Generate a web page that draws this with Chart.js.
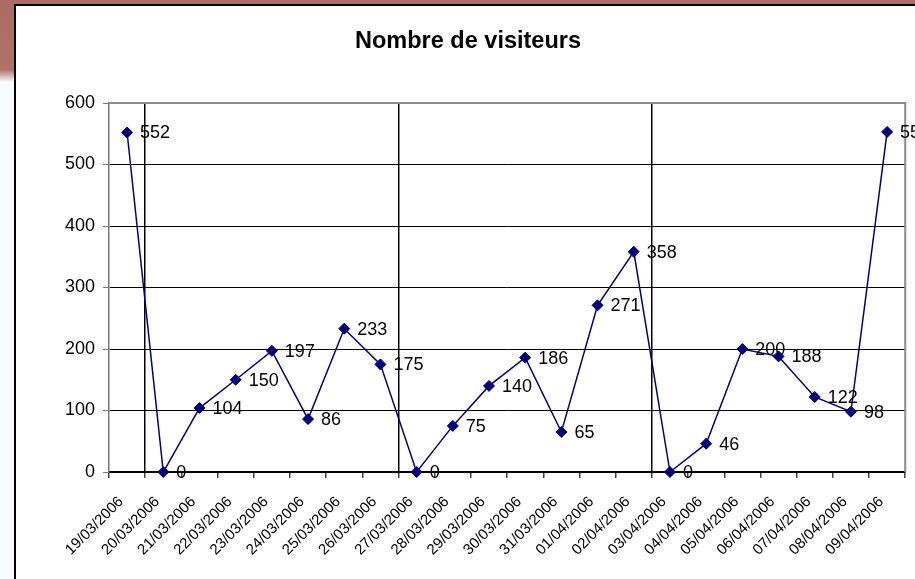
<!DOCTYPE html>
<html>
<head>
<meta charset="utf-8">
<script src="https://cdn.jsdelivr.net/npm/chart.js@4/dist/chart.umd.min.js"></script>
<style>
  html, body { margin: 0; padding: 0; }
  body { width: 915px; height: 579px; overflow: hidden; position: relative; background: #f6fbfb; font-family: "Liberation Sans", Arial, sans-serif; }
  .backdrop { position: absolute; left: 0; top: 0; width: 915px; height: 82px; background: linear-gradient(to bottom, #ad6b63 0%, #b0716b 85%, #f6fbfb 100%); }
  .frame { position: absolute; left: 14px; top: 4px; width: 960px; height: 640px; background: #fff; border-left: 2px solid #000; border-top: 2px solid #000; }
  #chart { position: absolute; left: 0; top: 0; }
</style>
</head>
<body>
<div class="backdrop"></div>
<div class="frame"></div>
<canvas id="chart" width="915" height="579"></canvas>
<script>
// visitor counts per day
const dates = ["19/03/2006", "20/03/2006", "21/03/2006", "22/03/2006", "23/03/2006", "24/03/2006", "25/03/2006",
  "26/03/2006", "27/03/2006", "28/03/2006", "29/03/2006", "30/03/2006", "31/03/2006", "01/04/2006",
  "02/04/2006", "03/04/2006", "04/04/2006", "05/04/2006", "06/04/2006", "07/04/2006", "08/04/2006", "09/04/2006"];
const visitors = [552, 0, 104, 150, 197, 86, 233, 175, 0, 75, 140, 186, 65, 271, 358, 0, 46, 200, 188, 122, 98, 553];
const yTicks = [0, 100, 200, 300, 400, 500, 600];
// week separators (before these category indexes)
const weekStarts = [1, 8, 15];

const FONT = "'Liberation Sans', Arial, sans-serif";

// grey frame round the plot area
const plotFrame = {
  id: "plotFrame",
  beforeDatasetsDraw(chart) {
    const a = chart.chartArea, ctx = chart.ctx;
    ctx.save();
    ctx.strokeStyle = "#8c8c8c";
    ctx.lineWidth = 2;
    ctx.beginPath();
    ctx.moveTo(a.left, a.top);
    ctx.lineTo(a.right, a.top);
    ctx.lineTo(a.right, a.bottom);
    ctx.stroke();
    ctx.restore();
  }
};

// value next to each point
const valueLabels = {
  id: "valueLabels",
  afterDatasetsDraw(chart) {
    const ctx = chart.ctx;
    const meta = chart.getDatasetMeta(0);
    ctx.save();
    ctx.font = "18px " + FONT;
    ctx.fillStyle = "#000";
    ctx.textAlign = "left";
    ctx.textBaseline = "middle";
    meta.data.forEach((pt, i) => {
      ctx.fillText(String(visitors[i]), pt.x + 13, pt.y + 1);
    });
    ctx.restore();
  }
};

new Chart(document.getElementById("chart"), {
  type: "line",
  data: {
    labels: dates,
    datasets: [{
      data: visitors,
      borderColor: "#000080",
      backgroundColor: "#000080",
      borderWidth: 1.5,
      tension: 0,
      pointStyle: "rectRot",
      pointRadius: 5.5,
      pointBorderWidth: 1,
      pointBackgroundColor: "#000080",
      pointBorderColor: "#000080",
      clip: false
    }]
  },
  options: {
    responsive: false,
    animation: false,
    layout: { padding: { left: 28, right: 7, top: 0, bottom: 0 } },
    plugins: {
      legend: { display: false },
      tooltip: { enabled: false },
      title: {
        display: true,
        text: "Nombre de visiteurs",
        color: "#000",
        font: { family: FONT, size: 23.5, weight: "bold" },
        padding: { top: 27, bottom: 47.8 }
      }
    },
    scales: {
      x: {
        type: "category",
        offset: true,
        afterFit(s) { s.height = 107; },
        grid: {
          offset: true,
          color: ctx => weekStarts.includes(ctx.index) ? "#000" : "rgba(0,0,0,0)",
          lineWidth: 1.5,
          tickColor: "#444",
          tickLength: 6
        },
        border: { color: "#000", width: 2 },
        ticks: {
          color: "#000",
          font: { family: FONT, size: 15 },
          minRotation: 45,
          maxRotation: 45,
          autoSkip: false,
          padding: 15,
          labelOffset: -6
        }
      },
      y: {
        min: 0,
        max: 600,
        afterFit(s) { s.width = 81; },
        afterBuildTicks(s) { s.ticks = yTicks.map(v => ({ value: v })); },
        grid: {
          color: "#000",
          lineWidth: 1,
          tickColor: "#777",
          tickLength: 6
        },
        border: { color: "#777", width: 1.5 },
        ticks: {
          color: "#000",
          font: { family: FONT, size: 18 },
          padding: 8
        }
      }
    }
  },
  plugins: [plotFrame, valueLabels]
});
</script>
</body>
</html>
